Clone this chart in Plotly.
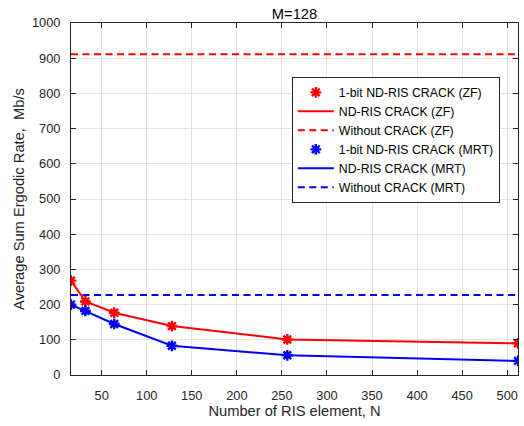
import plotly.graph_objects as go

N = [16, 32, 64, 128, 256, 512]
zf_1bit = [268, 209, 177, 139, 101, 90]
mrt_1bit = [200, 182, 145, 83, 56, 40]
zf_without = 911
mrt_without = 227

x_range = [16, 512]
y_range = [0, 1000]
x_ticks = [50, 100, 150, 200, 250, 300, 350, 400, 450, 500]
y_ticks = [0, 100, 200, 300, 400, 500, 600, 700, 800, 900, 1000]

RED = "#ff0000"
BLUE = "#0000ff"
FONT = "Liberation Sans, Arial, sans-serif"
DASH = "7px,4.5px"

fig = go.Figure()
fig.add_trace(go.Scatter(x=N, y=zf_1bit, mode="markers", name="1-bit ND-RIS CRACK (ZF)",
                         marker=dict(symbol="asterisk-open", size=9, color=RED, line=dict(color=RED, width=2.4))))
fig.add_trace(go.Scatter(x=N, y=zf_1bit, mode="lines", name="ND-RIS CRACK (ZF)",
                         line=dict(color=RED, width=2)))
fig.add_trace(go.Scatter(x=x_range, y=[zf_without, zf_without], mode="lines", name="Without CRACK (ZF)",
                         line=dict(color=RED, width=2, dash=DASH)))
fig.add_trace(go.Scatter(x=N, y=mrt_1bit, mode="markers", name="1-bit ND-RIS CRACK (MRT)",
                         marker=dict(symbol="asterisk-open", size=9, color=BLUE, line=dict(color=BLUE, width=2.4))))
fig.add_trace(go.Scatter(x=N, y=mrt_1bit, mode="lines", name="ND-RIS CRACK (MRT)",
                         line=dict(color=BLUE, width=2)))
fig.add_trace(go.Scatter(x=x_range, y=[mrt_without, mrt_without], mode="lines", name="Without CRACK (MRT)",
                         line=dict(color=BLUE, width=2, dash=DASH)))

axis_common = dict(showgrid=True, gridcolor="#e3e3e3", gridwidth=1, zeroline=False,
                   showline=True, linecolor="#262626", linewidth=1, mirror="ticks",
                   ticks="inside", ticklen=5, tickcolor="#262626",
                   tickfont=dict(family=FONT, size=12.8, color="#262626"))

fig.update_layout(
    width=524, height=426,
    margin=dict(l=71, r=6, t=23, b=51),
    paper_bgcolor="white", plot_bgcolor="white",
    title=dict(text="M=128", x=0.5, xref="paper", y=1, yref="paper", yanchor="bottom", pad=dict(b=4),
               font=dict(family=FONT, size=14.7, color="black")),
    xaxis=dict(range=x_range, tickvals=x_ticks, ticklabelstandoff=9,
               title=dict(text="Number of RIS element, N", standoff=2,
                          font=dict(family=FONT, size=14.7, color="#262626")),
               **axis_common),
    yaxis=dict(range=y_range, tickvals=y_ticks, ticklabelstandoff=7,
               title=dict(text="Average Sum Ergodic Rate,&nbsp;&nbsp;Mb/s", standoff=3,
                          font=dict(family=FONT, size=14.7, color="#262626")),
               **axis_common),
    legend=dict(x=0.494, y=0.847, xanchor="left", yanchor="top",
                bgcolor="white", bordercolor="#262626", borderwidth=1,
                font=dict(family=FONT, size=12.3, color="black"),
                tracegroupgap=0, itemwidth=36),
    showlegend=True,
)

fig.write_html("out.html")
